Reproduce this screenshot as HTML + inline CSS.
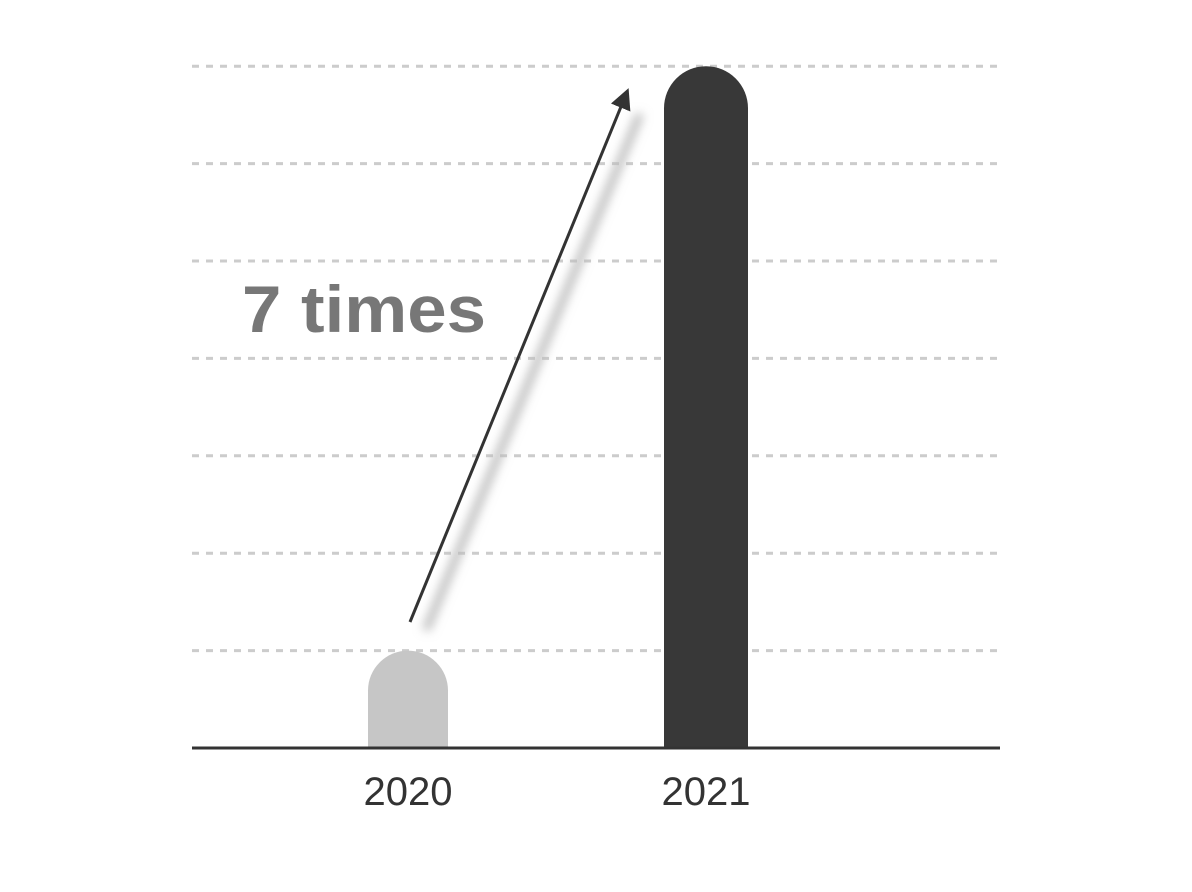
<!DOCTYPE html>
<html><head><meta charset="utf-8"><style>
html,body{margin:0;padding:0;background:#fff;}
svg{display:block;font-family:"Liberation Sans",Arial,sans-serif;}
</style></head><body>
<svg id="chart" width="1192" height="892" viewBox="0 0 1192 892">
<defs>
<filter id="blur" x="-50%" y="-50%" width="200%" height="200%"><feGaussianBlur stdDeviation="5"/></filter>
<marker id="ah" viewBox="0 0 10 10" refX="8" refY="5" markerWidth="7" markerHeight="7" orient="auto-start-reverse"><path d="M0,0 L10,5 L0,10 z" fill="#333"/></marker>
</defs>
<g id="grid"></g>
<g id="bars"></g>
<line x1="192" y1="748" x2="1000" y2="748" stroke="#333" stroke-width="3"/>
<g id="labels"></g>
<g>
<line x1="426" y1="630" x2="640" y2="114" stroke="#bbb" stroke-width="8" filter="url(#blur)"/>
<line x1="410" y1="622" x2="627" y2="92" stroke="#333" stroke-width="3" marker-end="url(#ah)"/>
</g>
<text x="242" y="332" font-size="66" font-weight="bold" fill="#777" textLength="244" lengthAdjust="spacingAndGlyphs">7 times</text>
</svg>
<script>
const categories=["2020","2021"];
const values=[1,7];
const gridTicks=[1,2,3,4,5,6,7];
const svgNS="http://www.w3.org/2000/svg";
const y=v=>748-v*97.4;
const x=i=>408+298*i;
const colors=["#c6c6c6","#383838"];
const widths=[80,84];
const g=document.getElementById("grid");
gridTicks.forEach(t=>{
 const l=document.createElementNS(svgNS,"line");
 
 
 l.setAttribute("x1",192);l.setAttribute("x2",1000);
 l.setAttribute("y1",y(t));l.setAttribute("y2",y(t));
 l.setAttribute("stroke","#ccc");l.setAttribute("stroke-width",3);l.setAttribute("stroke-dasharray","7 7");
 g.appendChild(l);
});
const b=document.getElementById("bars"),lb=document.getElementById("labels");
categories.forEach((c,i)=>{
 const w=widths[i],r=w/2,cx=x(i),top=y(values[i]),L=cx-r,R=cx+r;
 const p=document.createElementNS(svgNS,"path");
 
 
 p.setAttribute("d",`M${L},748 L${L},${top+r} A${r},${r} 0 0 1 ${R},${top+r} L${R},748 Z`);
 p.setAttribute("fill",colors[i]);
 b.appendChild(p);
 const t=document.createElementNS(svgNS,"text");
 
 
 t.setAttribute("x",cx);t.setAttribute("y",805);t.setAttribute("text-anchor","middle");
 t.setAttribute("font-size",40);t.setAttribute("fill","#333");
 t.textContent=c;lb.appendChild(t);
});
</script>
</body></html>
